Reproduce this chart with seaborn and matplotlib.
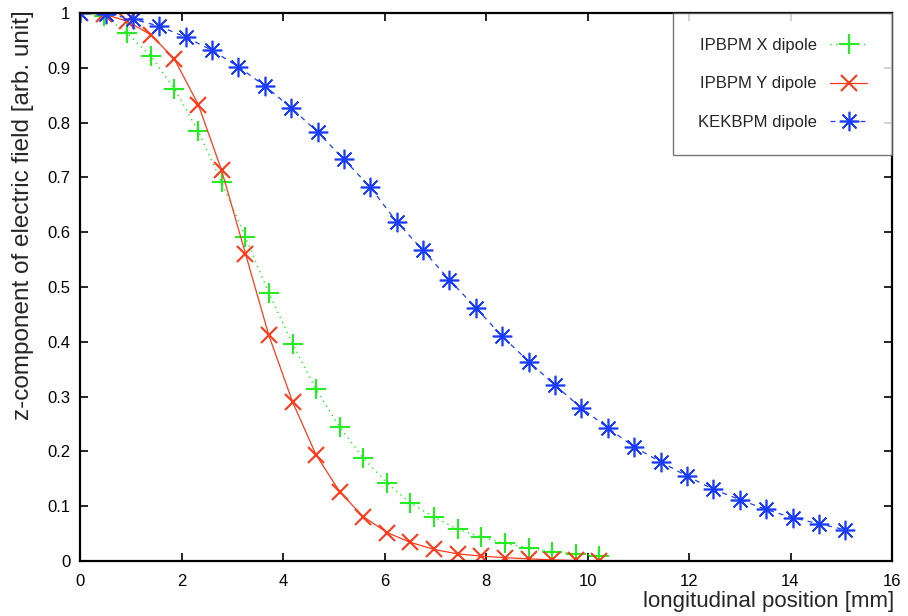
import matplotlib
matplotlib.use("Agg")
import matplotlib.pyplot as plt
import seaborn as sns
import pandas as pd

# ---- data ----
ipx_x = [0.00, 0.47, 0.93, 1.40, 1.86, 2.33, 2.79, 3.26, 3.72, 4.19, 4.65, 5.12,
         5.58, 6.05, 6.51, 6.98, 7.44, 7.91, 8.37, 8.84, 9.30, 9.77, 10.23]
ipx_y = [1.000, 0.995, 0.963, 0.921, 0.862, 0.784, 0.691, 0.591, 0.489, 0.396, 0.313, 0.244,
         0.188, 0.142, 0.106, 0.080, 0.058, 0.044, 0.032, 0.024, 0.017, 0.013, 0.009]

ipy_x = [0.00, 0.47, 0.93, 1.40, 1.86, 2.33, 2.79, 3.26, 3.72, 4.19, 4.65, 5.12,
         5.58, 6.05, 6.51, 6.98, 7.44, 7.91, 8.37, 8.84, 9.30, 9.77, 10.23]
ipy_y = [1.000, 0.998, 0.985, 0.960, 0.916, 0.833, 0.713, 0.561, 0.412, 0.290, 0.194, 0.126,
         0.081, 0.052, 0.034, 0.021, 0.013, 0.009, 0.006, 0.004, 0.002, 0.001, 0.000]

kek_x = [0.00, 0.52, 1.04, 1.56, 2.08, 2.60, 3.12, 3.64, 4.16, 4.68, 5.20, 5.72,
         6.24, 6.76, 7.28, 7.80, 8.32, 8.84, 9.36, 9.88, 10.40, 10.92, 11.44, 11.96,
         12.48, 13.00, 13.52, 14.04, 14.56, 15.08]
kek_y = [1.000, 0.999, 0.989, 0.976, 0.956, 0.932, 0.902, 0.867, 0.827, 0.783, 0.733, 0.682,
         0.619, 0.567, 0.513, 0.462, 0.410, 0.364, 0.321, 0.279, 0.243, 0.208, 0.181, 0.155,
         0.131, 0.112, 0.094, 0.079, 0.068, 0.057]

labels = ["IPBPM X dipole", "IPBPM Y dipole", "KEKBPM dipole"]
x_ticks = [0, 2, 4, 6, 8, 10, 12, 14, 16]
y_ticks = [0, 0.1, 0.2, 0.3, 0.4, 0.5, 0.6, 0.7, 0.8, 0.9, 1]
y_tick_labels = ["0", "0.1", "0.2", "0.3", "0.4", "0.5", "0.6", "0.7", "0.8", "0.9", "1"]

sns.set_theme(style="ticks")
plt.rcParams["font.family"] = ["Liberation Sans", "DejaVu Sans"]

fig = plt.figure(figsize=(9.08, 6.16), dpi=100)
ax = fig.add_axes([80 / 908, 1 - 561 / 616, (892 - 80) / 908, (561 - 13) / 616])

df_x = pd.DataFrame({"x": ipx_x, "y": ipx_y})
df_y = pd.DataFrame({"x": ipy_x, "y": ipy_y})
df_k = pd.DataFrame({"x": kek_x, "y": kek_y})

c_g, c_r, c_b = "#22ee22", "#ff3a1a", "#1a3cff"

sns.lineplot(data=df_x, x="x", y="y", ax=ax, sort=False, estimator=None,
             color=c_g, linestyle=(0, (1, 3)), linewidth=1.0,
             marker="+", markersize=15, markeredgewidth=1.5, markeredgecolor=c_g,
             label=labels[0])
sns.lineplot(data=df_y, x="x", y="y", ax=ax, sort=False, estimator=None,
             color=c_r, linestyle="-", linewidth=0.9,
             marker="x", markersize=12, markeredgewidth=1.5, markeredgecolor=c_r,
             label=labels[1])
sns.lineplot(data=df_k, x="x", y="y", ax=ax, sort=False, estimator=None,
             color=c_b, linestyle=(0, (4, 4)), linewidth=0.9,
             marker=(8, 2, 0), markersize=14, markeredgewidth=1.2, markeredgecolor=c_b,
             label=labels[2])

ax.set_xlim(0, 16)
ax.set_ylim(0, 1)
ax.set_xticks(x_ticks)
ax.set_xticklabels([str(t) for t in x_ticks])
ax.set_yticks(y_ticks)
ax.set_yticklabels(y_tick_labels)
ax.tick_params(direction="in", length=6, width=1.2, top=True, right=True,
               labelsize=12, colors="black")
ax.tick_params(axis="x", pad=9)
ax.tick_params(axis="y", pad=7)
for s in ax.spines.values():
    s.set_linewidth(1.6)
    s.set_color("black")
    s.set_visible(True)
ax.grid(False)
ax.set_xlabel("")
ax.set_ylabel("")

fig.text(894 / 908, 1 - 602 / 616, "longitudinal position [mm]", ha="right", va="center",
         fontsize=16)
fig.text(23 / 908, 1 - 10 / 616, "z-component of electric field [arb. unit]", rotation=90,
         ha="center", va="top", fontsize=17.5)

leg = ax.legend(loc="upper right", markerfirst=False, fontsize=12, frameon=True,
                fancybox=False, borderpad=1.5, labelspacing=1.4, handlelength=2.2,
                handletextpad=0.8, borderaxespad=0.0)
leg.get_frame().set_edgecolor("#555555")
leg.get_frame().set_linewidth(1.0)

fig.savefig("out.png", dpi=100)
